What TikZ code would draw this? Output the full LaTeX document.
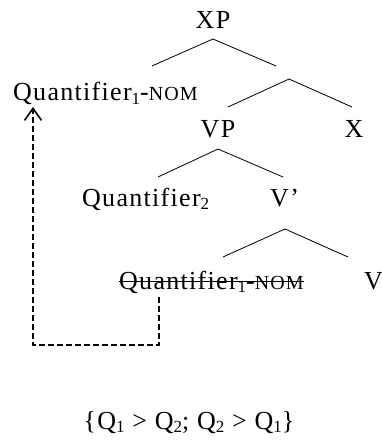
\documentclass[tikz,border=0pt]{standalone}
\usepackage{fontspec}
\setmainfont[LetterSpace=5]{Liberation Serif}
\usetikzlibrary{arrows.meta,positioning}

\newcommand{\nom}{{\fontsize{20}{22}\selectfont NOM}}
\newcommand{\low}[1]{\raisebox{-3pt}{\fontsize{17}{19}\selectfont #1}}

\begin{document}
\begin{tikzpicture}[x=1pt,y=-1pt,
   every node/.style={inner sep=0pt,font=\fontsize{26}{30}\selectfont},
   branch/.style={line width=0.8pt},
   move/.style={line width=1.6pt,dash pattern=on 6pt off 3pt,
                -{Straight Barb[length=12pt,width=17pt,line width=1.6pt]}}]
   \useasboundingbox (0,0) rectangle (382,441);

   \node[anchor=base] (xp) at (213,29) {XP};
   \node[anchor=base west] (q1) at (13,101) {Quantifier\low{1}-\nom};
   \node[anchor=base] (vp) at (218,137) {VP};
   \node[anchor=base] (x) at (354,137) {X};
   \node[anchor=base west] (q2) at (82,206) {Quantifier\low{2}};
   \node[anchor=base west] (vbar) at (270,206) {V’};
   \node[anchor=base west] (q1t) at (119,289) {Quantifier\low{1}-\nom};
   \node[anchor=base west] (v) at (364,289) {V};
   \node[anchor=base] (scope) at (189,429) {\{Q\low{1} > Q\low{2}; Q\low{2} > Q\low{1}\}};

   % branches
   \coordinate (xp-t) at (213,39);  \coordinate (xp-l) at (152,66);  \coordinate (xp-r) at (276,66);
   \coordinate (xb-t) at (289,79);  \coordinate (xb-l) at (228,107); \coordinate (xb-r) at (352,107);
   \coordinate (vp-t) at (218,149); \coordinate (vp-l) at (158,177); \coordinate (vp-r) at (283,177);
   \coordinate (vb-t) at (285,229); \coordinate (vb-l) at (223,257); \coordinate (vb-r) at (348,257);
   \draw[branch] (xp-l) -- (xp-t) -- (xp-r);
   \draw[branch] (xb-l) -- (xb-t) -- (xb-r);
   \draw[branch] (vp-l) -- (vp-t) -- (vp-r);
   \draw[branch] (vb-l) -- (vb-t) -- (vb-r);

   % trace
   \draw[line width=1pt] ([yshift=8pt]q1t.base west) -- ([yshift=8pt]q1t.base east);
   \coordinate (trace) at (159,297);
   \coordinate (corner) at (33,345);
   \coordinate (land) at (33,107);
   \draw[move] (trace) |- (corner) -- (land);
\end{tikzpicture}
\end{document}
